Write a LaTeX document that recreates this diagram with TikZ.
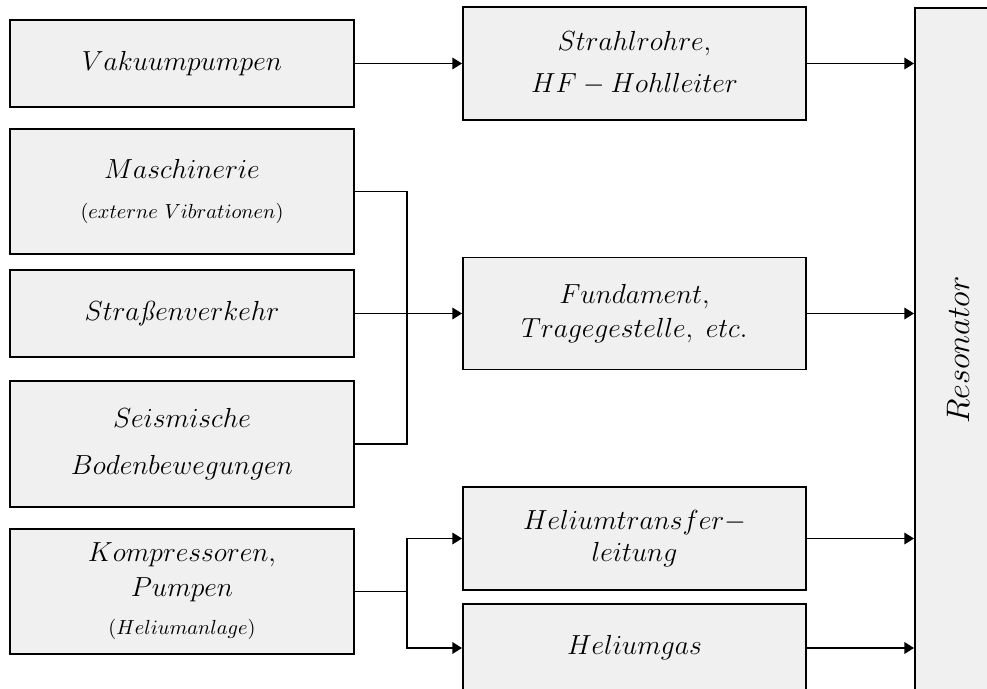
\documentclass[tikz,border=0pt]{standalone}
\usepackage{fix-cm}
\usetikzlibrary{arrows.meta}
\definecolor{boxgray}{RGB}{240,240,240}
\tikzset{
  blk/.style={rectangle,draw=black,fill=boxgray,line width=1.1pt,inner sep=0pt,
    align=center,font=\fontsize{15.7}{18.5}\selectfont},
  srcblk/.style={blk,minimum width=6.88cm},
  midblk/.style={blk,minimum width=6.86cm},
  wire/.style={line width=1.1pt},
  flow/.style={wire,-{Triangle[length=5.5pt,width=6.5pt]}},
}
\newcommand{\smalltxt}[1]{{\fontsize{11.6}{14}\selectfont$#1$}}

\begin{document}
\begin{tikzpicture}[x=0.02cm,y=-0.02cm]
  \useasboundingbox (0,0) rectangle (987,689);
  \clip (0,0) rectangle (987,689);
  % sources
  \node[srcblk,minimum height=1.74cm] (vak) at (182,63.5) {$Vakuumpumpen$};
  \node[srcblk,minimum height=2.5cm] (masch) at (182,191.5)
    {$Maschinerie$\\[4.3pt]\smalltxt{(externe\ Vibrationen)}};
  \node[srcblk,minimum height=1.74cm] (strasse) at (182,313.5) {$Stra$\textit{ß}$enverkehr$};
  \node[srcblk,minimum height=2.52cm] (seism) at (182,444) {$Seismische$\\[8.2pt]$Bodenbewegungen$};
  \node[srcblk,minimum height=2.5cm] (kompr) at (182,591.5)
    {$Kompressoren,$\\[1.4pt]$Pumpen$\\[3.1pt]\smalltxt{(Heliumanlage)}};
  % paths
  \node[midblk,minimum height=2.26cm] (strahl) at (634.5,63.5) {$Strahlrohre,$\\[5.4pt]$HF-Hohlleiter$};
  \node[midblk,minimum height=2.24cm] (fund) at (634.5,313.5) {$Fundament,$\\[0.8pt]$Tragegestelle,\ etc.$};
  \node[midblk,minimum height=2.06cm] (heltr) at (634.5,538.5) {$Heliumtransfer-$\\$leitung$};
  \node[midblk,minimum height=1.76cm] (helgas) at (634.5,648) {$Heliumgas$};
  % target
  \node[blk,minimum width=1.72cm,minimum height=13.68cm,
    label={[rotate=90,font=\fontsize{18.5}{22}\selectfont]center:$Resonator$}] (reso) at (958,350) {};

  \coordinate (jA) at (407,313.5);
  \coordinate (jB) at (407,591.5);
  \draw[flow] (vak.east) -- (strahl.west);
  \draw[wire] (masch.east) -| (jA) |- (seism.east);
  \draw[flow] (strasse.east) -- (fund.west);
  \draw[wire] (kompr.east) -- (jB);
  \draw[flow] (jB) |- (heltr.west);
  \draw[flow] (jB) |- (helgas.west);
  \draw[flow] (strahl.east) -- (strahl.east -| reso.west);
  \draw[flow] (fund.east) -- (fund.east -| reso.west);
  \draw[flow] (heltr.east) -- (heltr.east -| reso.west);
  \draw[flow] (helgas.east) -- (helgas.east -| reso.west);
\end{tikzpicture}
\end{document}
